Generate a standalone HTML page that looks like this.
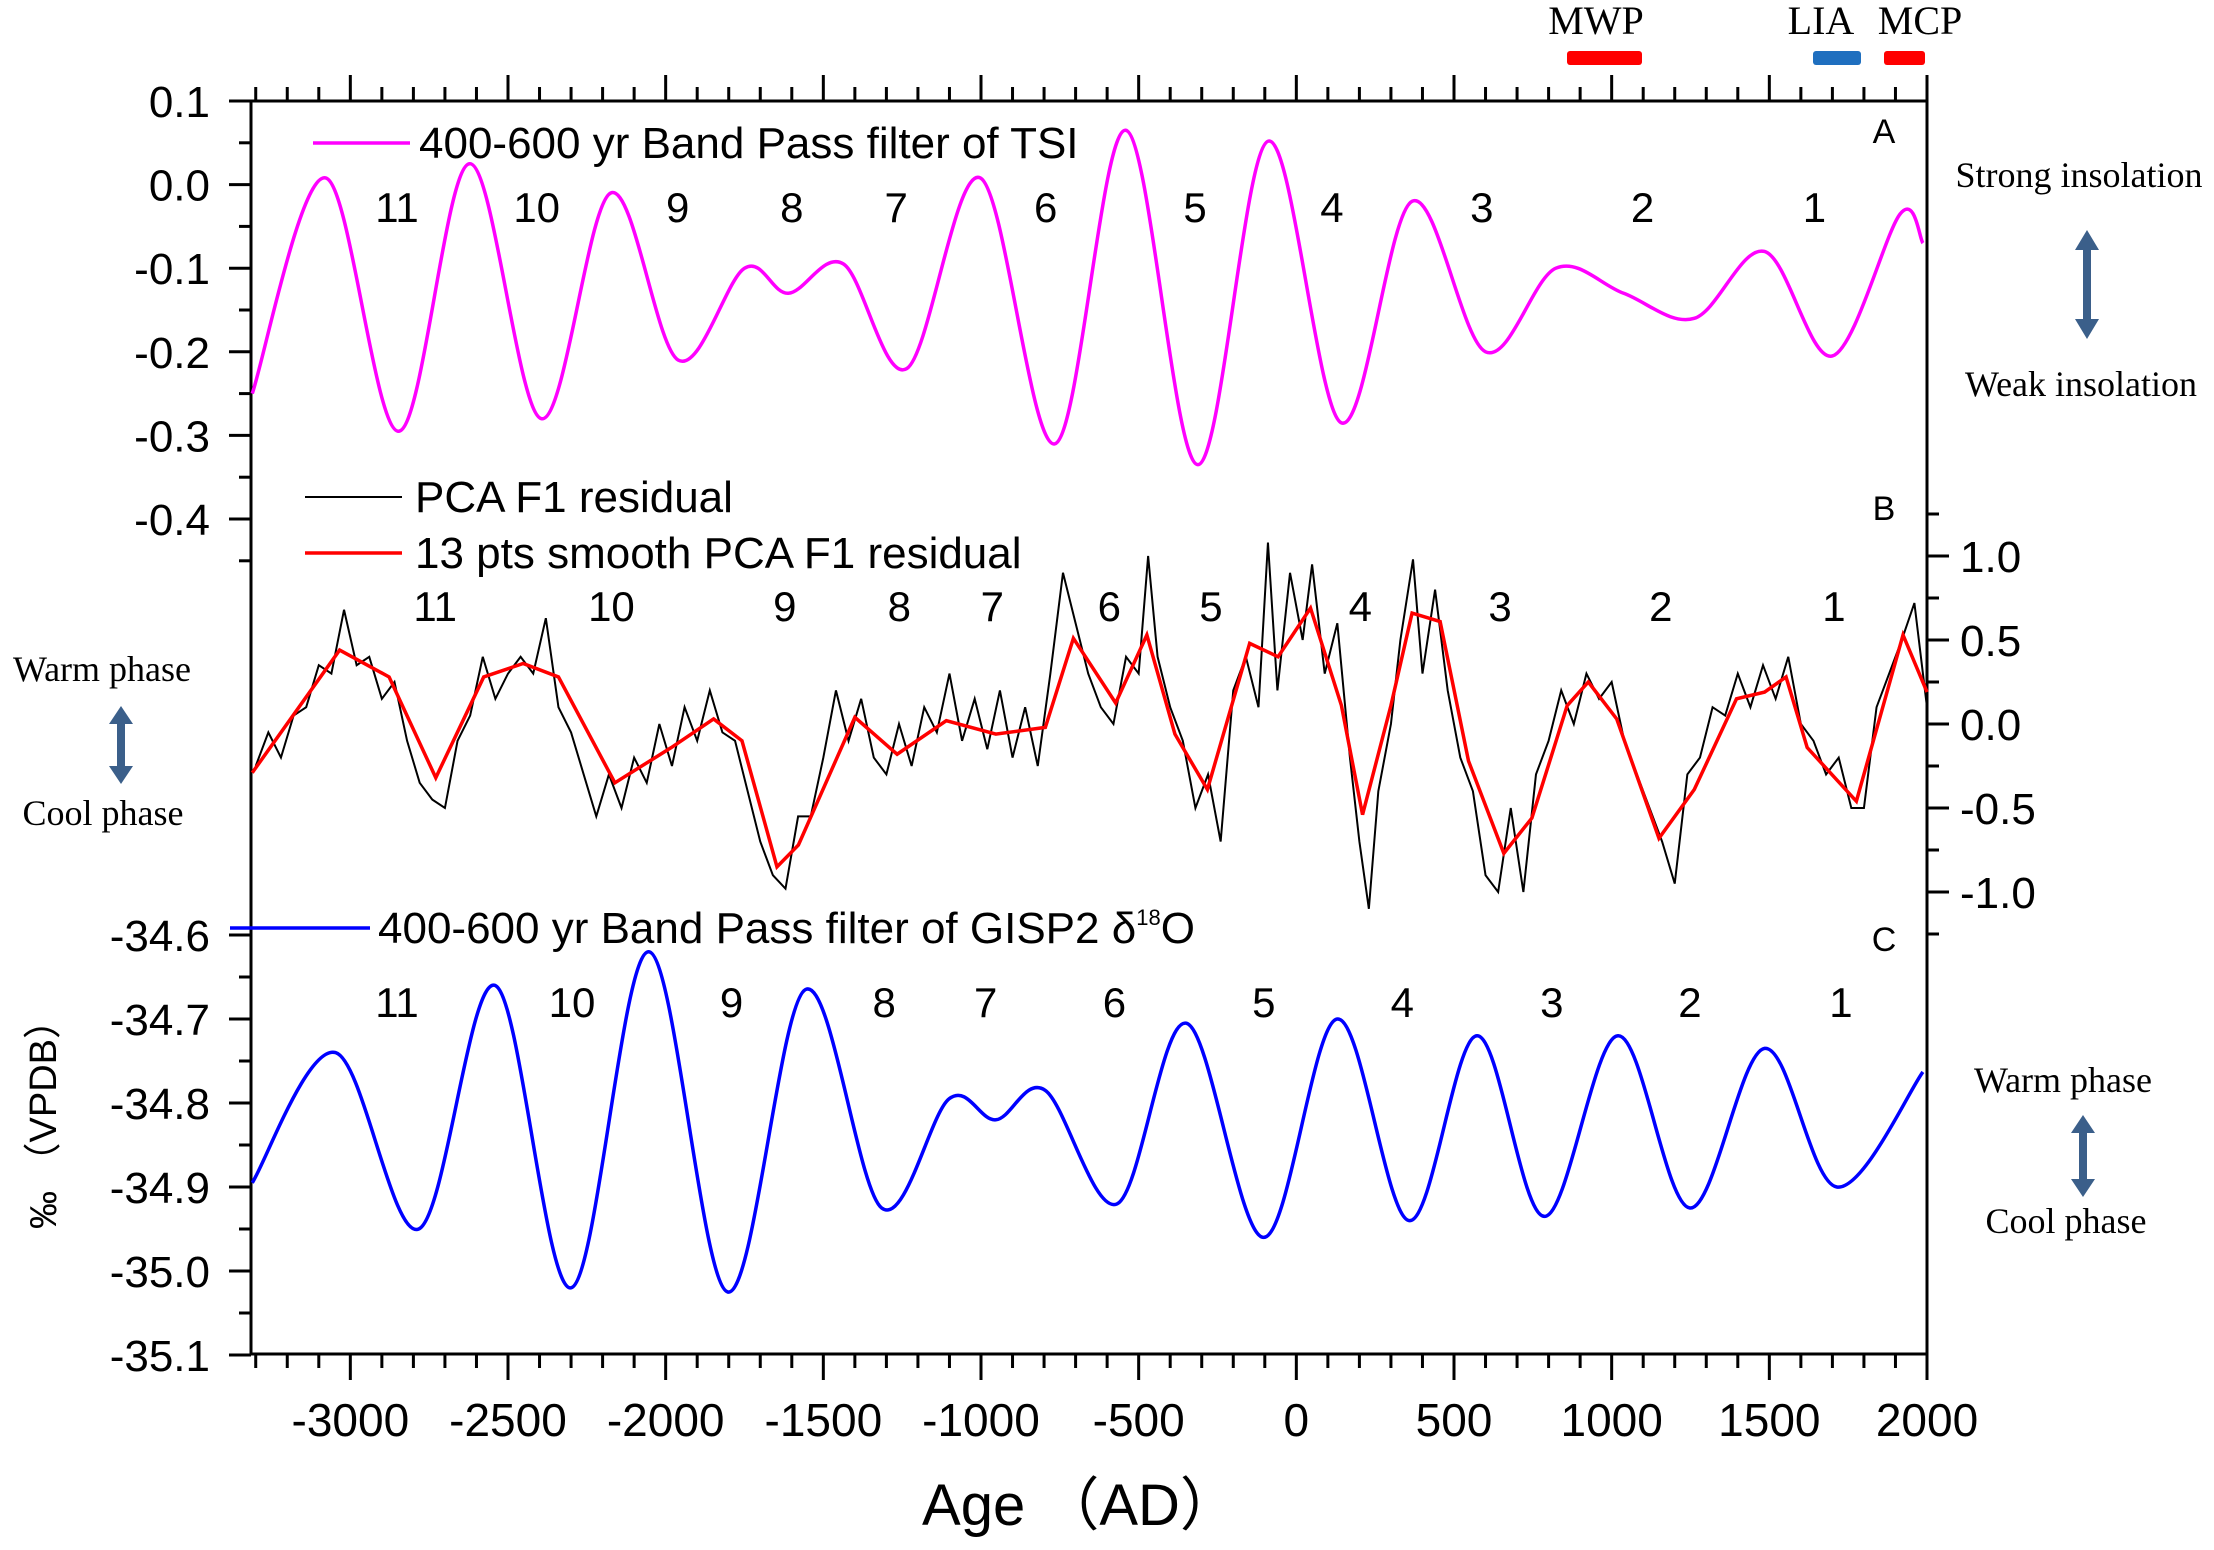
<!DOCTYPE html>
<html><head><meta charset="utf-8"><style>
html,body{margin:0;padding:0;background:#fff;}
svg{display:block;}
.sans{font-family:"Liberation Sans",sans-serif;}
.serif{font-family:"Liberation Serif",serif;}
</style></head><body>
<svg id="chart" width="2214" height="1550" viewBox="0 0 2214 1550" xmlns="http://www.w3.org/2000/svg">
<g id="frame"></g>
<g id="series"></g>
<g id="labels"></g>
</svg>
<script>
// ---- data ----
const xTicks = [-3000,-2500,-2000,-1500,-1000,-500,0,500,1000,1500,2000];
const tsiYears = [-3311,-3078,-2846,-2622,-2394,-2174,-1960,-1750,-1611,-1436,-1235,-1002,-765,-541,-313,-89,143,367,600,823,1038,1262,1485,1700,1915,1987];
const tsiValues = [-0.25,0.008,-0.295,0.025,-0.28,-0.01,-0.21,-0.1,-0.13,-0.095,-0.22,0.008,-0.31,0.065,-0.335,0.052,-0.285,-0.02,-0.2,-0.1,-0.13,-0.16,-0.08,-0.205,-0.035,-0.07];
const tsiTicks = [0.1,0.0,-0.1,-0.2,-0.3,-0.4];
const gispYears = [-3311,-3047,-2783,-2541,-2300,-2054,-1803,-1557,-1315,-1101,-953,-796,-568,-349,-103,130,358,573,787,1020,1248,1485,1714,1987];
const gispValues = [-34.895,-34.74,-34.95,-34.66,-35.02,-34.62,-35.025,-34.665,-34.925,-34.795,-34.82,-34.785,-34.92,-34.705,-34.96,-34.70,-34.94,-34.72,-34.935,-34.72,-34.925,-34.735,-34.9,-34.763];
const gispTicks = [-34.6,-34.7,-34.8,-34.9,-35.0,-35.1];
const smoothYears = [-3311,-3034,-2877,-2729,-2577,-2452,-2340,-2161,-1982,-1848,-1758,-1647,-1579,-1400,-1266,-1110,-953,-796,-707,-573,-474,-385,-282,-148,-58,45,143,210,300,367,456,546,658,747,859,926,1016,1150,1262,1396,1485,1553,1620,1776,1924,2000];
const smoothValues = [-0.29,0.44,0.28,-0.32,0.28,0.36,0.28,-0.35,-0.14,0.03,-0.1,-0.85,-0.72,0.04,-0.18,0.02,-0.06,-0.02,0.51,0.125,0.53,-0.06,-0.39,0.48,0.4,0.69,0.11,-0.54,0.11,0.66,0.61,-0.22,-0.77,-0.56,0.11,0.25,0.03,-0.68,-0.39,0.15,0.19,0.28,-0.14,-0.46,0.53,0.19];
const residYears = [-3300,-3260,-3220,-3180,-3140,-3100,-3060,-3020,-2980,-2940,-2900,-2860,-2820,-2780,-2740,-2700,-2660,-2620,-2580,-2540,-2500,-2460,-2420,-2380,-2340,-2300,-2260,-2220,-2180,-2140,-2100,-2060,-2020,-1980,-1940,-1900,-1860,-1820,-1780,-1740,-1700,-1660,-1620,-1580,-1540,-1500,-1460,-1420,-1380,-1340,-1300,-1260,-1220,-1180,-1140,-1100,-1060,-1020,-980,-940,-900,-860,-820,-780,-740,-700,-660,-620,-580,-540,-500,-470,-440,-400,-360,-320,-280,-240,-200,-160,-120,-90,-60,-20,20,50,90,130,170,200,230,260,300,330,370,400,440,480,520,560,600,640,680,720,760,800,840,880,920,960,1000,1040,1080,1120,1160,1200,1240,1280,1320,1360,1400,1440,1480,1520,1560,1600,1640,1680,1720,1760,1800,1840,1880,1920,1960,2000];
const residValues = [-0.25,-0.05,-0.2,0.05,0.1,0.35,0.3,0.68,0.35,0.4,0.15,0.25,-0.1,-0.35,-0.45,-0.5,-0.1,0.05,0.4,0.15,0.3,0.4,0.3,0.63,0.1,-0.05,-0.3,-0.55,-0.3,-0.5,-0.2,-0.35,0.0,-0.25,0.1,-0.1,0.2,-0.05,-0.1,-0.4,-0.7,-0.9,-0.98,-0.55,-0.55,-0.2,0.2,-0.1,0.15,-0.2,-0.3,0.0,-0.25,0.1,-0.05,0.3,-0.1,0.15,-0.15,0.2,-0.2,0.1,-0.25,0.3,0.9,0.6,0.3,0.1,0.0,0.4,0.3,1.0,0.4,0.1,-0.1,-0.5,-0.3,-0.7,0.2,0.4,0.1,1.08,0.2,0.9,0.5,0.95,0.3,0.6,-0.2,-0.7,-1.1,-0.4,0.0,0.5,0.98,0.3,0.8,0.2,-0.2,-0.4,-0.9,-1.0,-0.5,-1.0,-0.3,-0.1,0.2,0.0,0.3,0.15,0.25,-0.1,-0.3,-0.5,-0.7,-0.95,-0.3,-0.2,0.1,0.05,0.3,0.1,0.35,0.15,0.4,0.0,-0.1,-0.3,-0.2,-0.5,-0.5,0.1,0.3,0.5,0.72,0.1];
const residTicks = [1.0,0.5,0.0,-0.5,-1.0];
const cycleLabels = ["11","10","9","8","7","6","5","4","3","2","1"];
const cycleYearsA = [-2852,-2409,-1962,-1600,-1269,-795,-321,113,588,1098,1643];
const cycleYearsB = [-2731,-2172,-1622,-1259,-964,-593,-271,203,646,1156,1705];
const cycleYearsC = [-2852,-2297,-1791,-1307,-985,-577,-103,336,810,1248,1727];

// ---- scales ----
const X0=251, X1=1927, YMIN=-3315, YMAX=2000;
const xs = y => X0 + (y - YMIN)/(YMAX - YMIN)*(X1 - X0);
const yA = v => 101 + (0.1 - v)*836;
const yB = v => 724 - v*168;
const yC = v => 935 + (-34.6 - v)*840;
const TOP=101, BOT=1354;
const NS="http://www.w3.org/2000/svg";
function mk(tag, attrs, parent){const e=document.createElementNS(NS,tag);for(const k in attrs)e.setAttribute(k,attrs[k]);parent.appendChild(e);return e;}
const frame=document.getElementById('frame'), series=document.getElementById('series'), labels=document.getElementById('labels');

let fr = mk('rect',{x:X0,y:TOP,width:X1-X0,height:BOT-TOP,fill:'none',stroke:'#000','stroke-width':3},frame);


for(let yr=-3300; yr<=2000; yr+=100){
  const x=xs(yr), major=(yr%500===0);
  const L= major?26:14;
  let t1=mk('line',{x1:x,x2:x,y1:TOP,y2:TOP-L,stroke:'#000','stroke-width':3},frame);
  
  
  let t2=mk('line',{x1:x,x2:x,y1:BOT,y2:BOT+L,stroke:'#000','stroke-width':3},frame);
  
  
}
xTicks.forEach(v=>{
  let t=mk('text',{x:xs(v),y:1436,'text-anchor':'middle','font-size':46,class:'sans'},labels);
  t.textContent=v;
  
  
});
for(let v=0.1; v>=-0.451; v-=0.05){
  const major=Math.abs(Math.round(v*20))%2===0;
  let t=mk('line',{x1:X0,x2:X0-(major?22:12),y1:yA(v),y2:yA(v),stroke:'#000','stroke-width':3},frame);
  
  
}
tsiTicks.forEach(v=>{
  let t=mk('text',{x:210,y:yA(v)+16,'text-anchor':'end','font-size':44,class:'sans'},labels);
  t.textContent=v.toFixed(1);
  
  
});
for(let i=0;i<=10;i++){
  const v=-34.6-i*0.05, major=i%2===0;
  let t=mk('line',{x1:X0,x2:X0-(major?22:12),y1:yC(v),y2:yC(v),stroke:'#000','stroke-width':3},frame);
  
  
}
gispTicks.forEach(v=>{
  let t=mk('text',{x:210,y:yC(v)+16,'text-anchor':'end','font-size':44,class:'sans'},labels);
  t.textContent=v.toFixed(1);
  
  
});
for(let i=0;i<=10;i++){
  const v=1.25-i*0.25, major=(i%2===1);
  let t=mk('line',{x1:X1,x2:X1+(major?22:12),y1:yB(v),y2:yB(v),stroke:'#000','stroke-width':3},frame);
  
  
}
residTicks.forEach(v=>{
  let t=mk('text',{x:1960,y:yB(v)+16,'font-size':44,class:'sans'},labels);
  t.textContent=v.toFixed(1);
  
  
});

function smoothPath(xsArr, ysArr){
  const p=xsArr.map((x,i)=>[x,ysArr[i]]);
  let d=`M${p[0][0]},${p[0][1]}`;
  for(let i=0;i<p.length-1;i++){
    const p0=p[Math.max(0,i-1)],p1=p[i],p2=p[i+1],p3=p[Math.min(p.length-1,i+2)];
    const c1=[p1[0]+(p2[0]-p0[0])/6,p1[1]+(p2[1]-p0[1])/6];
    const c2=[p2[0]-(p3[0]-p1[0])/6,p2[1]-(p3[1]-p1[1])/6];
    d+=` C${c1[0]},${c1[1]} ${c2[0]},${c2[1]} ${p2[0]},${p2[1]}`;
  }
  return d;
}
let pA=mk('path',{d:smoothPath(tsiYears.map(xs),tsiValues.map(yA)),fill:'none',stroke:'#ff00ff','stroke-width':3.5},series);


let pBk=mk('polyline',{points:residYears.map((y,i)=>xs(y)+','+yB(residValues[i])).join(' '),fill:'none',stroke:'#000','stroke-width':2},series);


let pBr=mk('polyline',{points:smoothYears.map((y,i)=>xs(y)+','+yB(smoothValues[i])).join(' '),fill:'none',stroke:'#ff0000','stroke-width':3.5},series);


let pC=mk('path',{d:smoothPath(gispYears.map(xs),gispValues.map(yC)),fill:'none',stroke:'#0000ff','stroke-width':3.5},series);



function cycles(arr, y, name){
  arr.forEach((yr,i)=>{
    let t=mk('text',{x:xs(yr),y:y,'text-anchor':'middle','font-size':42,class:'sans'},labels);
    t.textContent=cycleLabels[i];
    
    
  });
}
cycles(cycleYearsA,222,'cycle-number-a');
cycles(cycleYearsB,621,'cycle-number-b');
cycles(cycleYearsC,1017,'cycle-number-c');
</script>
<svg style="position:absolute;left:0;top:0" width="2214" height="1550" xmlns="http://www.w3.org/2000/svg">
 <g class="sans" font-size="44">
  <line x1="313" y1="143" x2="410" y2="143" stroke="#ff00ff" stroke-width="3.5"/>
  <text x="419" y="158">400-600 yr Band Pass filter of TSI</text>
  <line x1="305" y1="497" x2="402" y2="497" stroke="#000" stroke-width="2"/>
  <text x="415" y="512">PCA F1 residual</text>
  <line x1="305" y1="553" x2="402" y2="553" stroke="#ff0000" stroke-width="3.5"/>
  <text x="415" y="568">13 pts smooth PCA F1 residual</text>
  <line x1="230" y1="928" x2="370" y2="928" stroke="#0000ff" stroke-width="3.5"/>
  <text x="378" y="943">400-600 yr Band Pass filter of GISP2 δ<tspan font-size="22" dy="-18">18</tspan><tspan dy="18">O</tspan></text>
  <text x="1884" y="143" font-size="34" text-anchor="middle">A</text>
  <text x="1884" y="520" font-size="34" text-anchor="middle">B</text>
  <text x="1884" y="951" font-size="34" text-anchor="middle">C</text>
  <text x="1080" y="1525" font-size="58" text-anchor="middle" font-family="Liberation Sans, Noto Sans CJK SC, sans-serif">Age （AD）</text>
  <text transform="translate(56,1115) rotate(-90)" font-size="38" text-anchor="middle" font-family="Liberation Sans, Noto Sans CJK SC, sans-serif">‰ （VPDB）</text>
 </g>
 <g class="serif" font-size="40">
  <text x="1596" y="34" text-anchor="middle">MWP</text>
  <rect x="1567" y="51" width="75" height="14" rx="3" fill="#ff0000"/>
  <text x="1821" y="34" text-anchor="middle">LIA</text>
  <rect x="1813" y="51" width="48" height="14" rx="3" fill="#1f6fbf"/>
  <text x="1920" y="34" text-anchor="middle">MCP</text>
  <rect x="1884" y="51" width="41" height="14" rx="3" fill="#ff0000"/>
 </g>
 <g class="serif" font-size="36" text-anchor="middle" fill="#000">
  <text x="2079" y="187">Strong insolation</text>
  <text x="2081" y="396">Weak insolation</text>
  <text x="102" y="681">Warm phase</text>
  <text x="103" y="825">Cool phase</text>
  <text x="2063" y="1092">Warm phase</text>
  <text x="2066" y="1233">Cool phase</text>
 </g>
 <g fill="#3b5f8a">
  <path d="M2087,230 L2099,250 L2091,250 L2091,319 L2099,319 L2087,339 L2075,319 L2083,319 L2083,250 L2075,250 Z"/>
  <path d="M121,706 L133,724 L125,724 L125,766 L133,766 L121,784 L109,766 L117,766 L117,724 L109,724 Z"/>
  <path d="M2083,1115 L2095,1133 L2087,1133 L2087,1179 L2095,1179 L2083,1197 L2071,1179 L2079,1179 L2079,1133 L2071,1133 Z"/>
 </g>
</svg>
</body></html>
